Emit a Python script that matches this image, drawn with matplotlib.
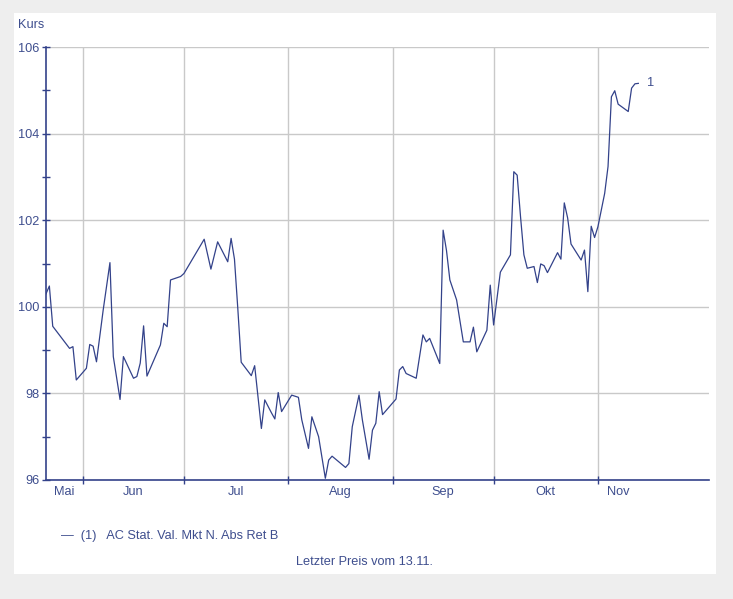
import matplotlib
matplotlib.use("Agg")
import matplotlib.pyplot as plt
from matplotlib.patches import Rectangle
import pandas as pd

# Data
dates = [
    "2014-05-21", "2014-05-22", "2014-05-23", "2014-05-28", "2014-05-29", "2014-05-30",
    "2014-06-02", "2014-06-03", "2014-06-04", "2014-06-05", "2014-06-07", "2014-06-09",
    "2014-06-10", "2014-06-12", "2014-06-13", "2014-06-16", "2014-06-17", "2014-06-18",
    "2014-06-19", "2014-06-20", "2014-06-24", "2014-06-25", "2014-06-26", "2014-06-27",
    "2014-06-30", "2014-07-01", "2014-07-07", "2014-07-09", "2014-07-11", "2014-07-14",
    "2014-07-15", "2014-07-16", "2014-07-17", "2014-07-18", "2014-07-21", "2014-07-22",
    "2014-07-24", "2014-07-25", "2014-07-27", "2014-07-28", "2014-07-29", "2014-07-30",
    "2014-08-02", "2014-08-04", "2014-08-05", "2014-08-07", "2014-08-08", "2014-08-10",
    "2014-08-12", "2014-08-13", "2014-08-14", "2014-08-18", "2014-08-19", "2014-08-20",
    "2014-08-22", "2014-08-23", "2014-08-25", "2014-08-26", "2014-08-27", "2014-08-28",
    "2014-08-29", "2014-08-31", "2014-09-02", "2014-09-03", "2014-09-04", "2014-09-05",
    "2014-09-08", "2014-09-10", "2014-09-11", "2014-09-12", "2014-09-15", "2014-09-16",
    "2014-09-17", "2014-09-18", "2014-09-20", "2014-09-22", "2014-09-24", "2014-09-25",
    "2014-09-26", "2014-09-29", "2014-09-30", "2014-10-01", "2014-10-03", "2014-10-06",
    "2014-10-07", "2014-10-08", "2014-10-09", "2014-10-10", "2014-10-11", "2014-10-13",
    "2014-10-14", "2014-10-15", "2014-10-16", "2014-10-17", "2014-10-20", "2014-10-21",
    "2014-10-22", "2014-10-23", "2014-10-24", "2014-10-27", "2014-10-28", "2014-10-29",
    "2014-10-30", "2014-10-31", "2014-11-01", "2014-11-03", "2014-11-04", "2014-11-05",
    "2014-11-06", "2014-11-07", "2014-11-10", "2014-11-11", "2014-11-12", "2014-11-13",
]
kurs = [
    100.30, 100.48, 99.55, 99.04, 99.08, 98.31,
    98.58, 99.13, 99.09, 98.73, 99.93, 101.02,
    98.85, 97.86, 98.85, 98.35, 98.39, 98.70,
    99.56, 98.40, 99.12, 99.62, 99.54, 100.62,
    100.70, 100.77, 101.56, 100.87, 101.50, 101.04,
    101.58, 101.10, 99.95, 98.72, 98.41, 98.64,
    97.19, 97.85, 97.55, 97.41, 98.02, 97.58,
    97.96, 97.91, 97.39, 96.73, 97.46, 97.00,
    96.04, 96.46, 96.55, 96.29, 96.38, 97.23,
    97.96, 97.39, 96.48, 97.15, 97.31, 98.04,
    97.51, 97.69, 97.87, 98.54, 98.62, 98.46,
    98.35, 99.35, 99.19, 99.27, 98.69, 101.77,
    101.30, 100.62, 100.16, 99.19, 99.19, 99.53,
    98.96, 99.46, 100.50, 99.58, 100.80, 101.20,
    103.12, 103.04, 102.08, 101.20, 100.89, 100.93,
    100.56, 100.99, 100.95, 100.79, 101.25, 101.10,
    102.40, 102.05, 101.45, 101.08, 101.31, 100.35,
    101.86, 101.60, 101.85, 102.62, 103.24, 104.85,
    104.99, 104.68, 104.51, 105.05, 105.15, 105.16,
]
month_names = ["Mai", "Jun", "Jul", "Aug", "Sep", "Okt", "Nov"]
month_starts = ["2014-05-01", "2014-06-01", "2014-07-01", "2014-08-01",
                "2014-09-01", "2014-10-01", "2014-11-01", "2014-12-01"]
x_end = "2014-12-04"
series_label = "\u2014  (1)   AC Stat. Val. Mkt N. Abs Ret B"
footer = "Letzter Preis vom 13.11."

dt = pd.to_datetime(dates)
ms = pd.to_datetime(month_starts)
xmin, xmax = dt[0], pd.Timestamp(x_end)
last = dt[-1]

blue = "#33428a"
txt = "#3e4e8e"
grid = "#c9c9c9"
fs = 9.2
plt.rcParams["font.family"] = ["Liberation Sans", "DejaVu Sans"]

W, H = 733, 599
fig = plt.figure(figsize=(W / 100, H / 100), dpi=100, facecolor="#eeeeee")
fig.patches.append(Rectangle((14 / W, 1 - 574 / H), (716 - 14) / W, (574 - 13) / H,
                             transform=fig.transFigure, facecolor="white",
                             edgecolor="none", zorder=-10))

ax = fig.add_axes([46 / W, 1 - 480 / H, (709 - 46) / W, (480 - 47) / H])
ax.set_facecolor("none")
ax.plot(dt, kurs, color=blue, lw=0.9, zorder=3)
ax.text(last + pd.Timedelta(days=2.5), kurs[-1], "1", color=txt, fontsize=fs,
        va="center", ha="left")

ax.set_xlim(xmin, xmax)
ax.set_ylim(96, 106)

for s in ["top", "right"]:
    ax.spines[s].set_visible(False)
for s in ["left", "bottom"]:
    ax.spines[s].set_color(blue)
    ax.spines[s].set_linewidth(1.2)

ax.set_yticks(range(96, 107, 2))
ax.set_yticks(range(97, 106, 2), minor=True)
ax.tick_params(axis="y", which="both", direction="inout", length=6, width=1,
               color=blue, labelcolor=txt, labelsize=fs, pad=2)
ax.grid(axis="y", which="major", color=grid, lw=1)

# month boundaries inside the data span: ticks and gridlines
inner = [m for m in ms if xmin < m <= last]
ax.set_xticks(inner)
ax.set_xticklabels([])
ax.tick_params(axis="x", which="major", direction="inout", length=6, width=1, color=blue)
ax.grid(axis="x", which="major", color=grid, lw=1)

# month labels centred on the data span within each month
mids = []
for a, b in zip(ms[:-1], ms[1:]):
    lo, hi = max(a, xmin), min(b, last)
    mids.append(lo + (hi - lo) / 2)
ax.set_xticks(mids, minor=True)
ax.set_xticklabels(month_names, minor=True)
ax.tick_params(axis="x", which="minor", length=0, labelcolor=txt, labelsize=fs, pad=4)

fig.text(18 / W, 1 - 25 / H, "Kurs", color=txt, fontsize=fs, va="center", ha="left")
fig.text(61 / W, 1 - 536 / H, series_label, color=txt, fontsize=fs, va="center", ha="left")
fig.text(364 / W, 1 - 562 / H, footer, color=txt, fontsize=fs, va="center", ha="center")

fig.savefig("out.png", dpi=100, facecolor=fig.get_facecolor())
